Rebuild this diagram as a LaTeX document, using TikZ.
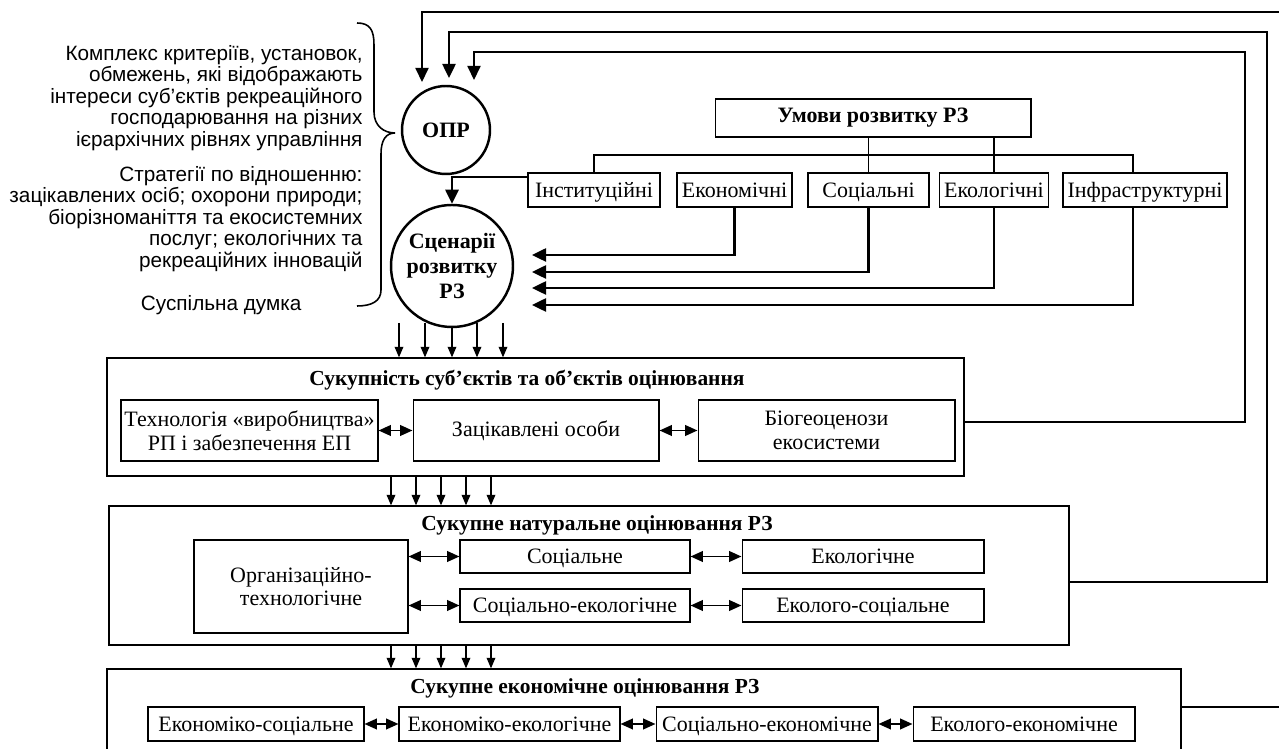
\documentclass[tikz,border=0pt]{standalone}
\usepackage{fontspec}
\setmainfont{Liberation Serif}
\newfontfamily\sansnote{Liberation Sans}
\usetikzlibrary{arrows.meta}

\begin{document}
\begin{tikzpicture}
  [x=0.02cm, y=-0.02cm, line width=0.6pt,
   box/.style={draw, line width=0.6pt, inner sep=1pt, align=center, font=\fontsize{12.5}{13.5}\selectfont},
   row/.style={box, minimum height=0.68cm, text height=10pt, text depth=2pt},
   frame/.style={draw, line width=0.8pt},
   title/.style={font=\fontsize{12.2}{14}\selectfont\bfseries},
   note/.style={align=right, anchor=east, inner sep=0pt, font=\sansnote\fontsize{11.8}{12.3}\selectfont},
   disc/.style={draw, circle, line width=1.4pt, inner sep=0pt, align=center, font=\fontsize{12.5}{14}\selectfont\bfseries},
   down/.style={-{Triangle[length=6pt,width=5pt]}, line width=0.6pt},
   feed/.style={-{Triangle[length=8pt,width=7.5pt]}, line width=1pt},
   both/.style={{Triangle[length=7pt,width=6pt]}-{Triangle[length=7pt,width=6pt]}, line width=1.1pt}]
  \useasboundingbox (0,0) rectangle (1279,749);

  \node[note] (crit) at (363,98) {Комплекс критеріїв, установок,\\обмежень, які відображають\\інтереси суб’єктів рекреаційного\\господарювання на різних\\ієрархічних рівнях управління};
  \node[note] (strat) at (363,219) {Стратегії по відношенню:\\зацікавлених осіб; охорони природи;\\біорізноманіття та екосистемних\\послуг; екологічних та\\рекреаційних інновацій};
  \node[note] (opin) at (302,305) {Суспільна думка};
  \draw[line width=0.9pt] (357,23) .. controls (370,23) and (374,30) .. (374,45) -- (374,112)
    .. controls (374,126) and (384,133) .. (395,133) .. controls (386,133) and (381,140) .. (381,154)
    -- (381,290) .. controls (381,301) and (372,306) .. (357,306);

  \node[disc, minimum size=1.76cm] (opr) at (446,130) {ОПР};
  \node[disc, minimum size=2.44cm] (scen) at (452,266) {Сценарії\\розвитку\\РЗ};

  \node[box, minimum width=6.32cm, minimum height=0.76cm, font=\fontsize{12.5}{14}\selectfont\bfseries] (umovy) at (873,118) {Умови розвитку РЗ};
  \node[row, minimum width=2.64cm] (inst) at (594,190) {Інституційні};
  \node[row, minimum width=2.30cm] (econ) at (734.5,190) {Економічні};
  \node[row, minimum width=2.42cm] (soc) at (868.5,190) {Соціальні};
  \node[row, minimum width=2.18cm] (ecol) at (994,190) {Екологічні};
  \node[row, minimum width=3.28cm] (infr) at (1145,190) {Інфраструктурні};

  \node[frame, minimum width=17.14cm, minimum height=2.36cm] (sukup) at (535.5,417) {};
  \node[title] (sukupt) at (527,380) {Сукупність суб’єктів та об’єктів оцінювання};
  \node[box, minimum width=5.14cm, minimum height=1.22cm] (tech) at (249.5,430.5) {Технологія «виробництва»\\РП і забезпечення ЕП};
  \node[box, minimum width=4.92cm, minimum height=1.22cm] (zac) at (536,430.5) {Зацікавлені особи};
  \node[box, minimum width=5.14cm, minimum height=1.22cm] (bio) at (826.5,430.5) {Біогеоценози\\екосистеми};

  \node[frame, minimum width=19.2cm, minimum height=2.78cm] (nat) at (589,575.5) {};
  \node[title] (natt) at (597,525) {Сукупне натуральне оцінювання РЗ};
  \node[box, minimum width=4.28cm, minimum height=1.86cm] (org) at (301,586.5) {Організаційно-\\технологічне};
  \node[row, minimum width=4.6cm, minimum height=0.66cm] (socn) at (575,556.5) {Соціальне};
  \node[row, minimum width=4.84cm, minimum height=0.66cm] (ecoln) at (863,556.5) {Екологічне};
  \node[row, minimum width=4.6cm, minimum height=0.66cm] (socecol) at (575,605.5) {Соціально-екологічне};
  \node[row, minimum width=4.84cm, minimum height=0.66cm] (ecolsoc) at (863,605.5) {Еколого-соціальне};

  \node[frame, minimum width=21.48cm, minimum height=1.82cm] (ekon) at (644,714.5) {};
  \node[title] (ekont) at (585,688) {Сукупне економічне оцінювання РЗ};
  \node[row, minimum width=4.32cm] (ekso) at (256,724) {Економіко-соціальне};
  \node[row, minimum width=4.42cm] (ekek) at (509.5,724) {Економіко-екологічне};
  \node[row, minimum width=4.44cm] (soek) at (767,724) {Соціально-економічне};
  \node[row, minimum width=4.44cm] (ekoek) at (1024,724) {Еколого-економічне};

  \coordinate (in1) at (422,82);
  \coordinate (in2) at (449,78);
  \coordinate (in3) at (474,80);
  \draw[line width=0.8pt] (ekon.east |- 0,707) -- (1290,707);
  \draw[feed, line width=0.8pt] (1290,12) -| (in1);
  \draw[feed, line width=1.2pt] (nat.east |- 0,582) -| (1267,32) -| (in2);
  \draw[feed, line width=0.8pt] (sukup.east |- 0,422) -| (1245,52) -| (in3);

  \coordinate (busr) at (1133,155);
  \draw (inst.north) |- (busr) -- (busr |- infr.north);
  \draw (umovy.south -| soc.north) -- (soc.north);
  \draw (umovy.south -| ecol.north) -- (ecol.north);
  \draw[feed, line width=1.2pt] ([yshift=0.26cm]inst.west) -| (scen.north);

  \coordinate (s1) at (532,255);
  \coordinate (s2) at (532,272);
  \coordinate (s3) at (532,288);
  \coordinate (s4) at (532,305);
  \draw[feed, line width=1.2pt] (econ.south) |- (s1);
  \draw[feed, line width=1.2pt] (soc.south) |- (s2);
  \draw[feed, line width=1.2pt] (ecol.south) |- (s3);
  \draw[feed, line width=1.2pt] (busr |- infr.south) |- (s4);

  \foreach \x in {399,425,477,503}
    \draw[down] (\x,323) -- (\x,0 |- sukup.north);
  \draw[down] (scen.south) -- (scen.south |- sukup.north);
  \foreach \x in {391,416,441,466,491} {
    \draw[down] (\x,0 |- sukup.south) -- (\x,0 |- nat.north);
    \draw[down] (\x,0 |- nat.south) -- (\x,0 |- ekon.north);
  }

  \draw[both] (tech) -- (zac);
  \draw[both] (zac) -- (bio);
  \draw[both] (socn.west -| org.east) -- (socn.west);
  \draw[both] (socecol.west -| org.east) -- (socecol.west);
  \draw[both] (socn) -- (ecoln);
  \draw[both] (socecol) -- (ecolsoc);
  \draw[both] (ekso) -- (ekek);
  \draw[both] (ekek) -- (soek);
  \draw[both] (soek) -- (ekoek);
\end{tikzpicture}
\end{document}
